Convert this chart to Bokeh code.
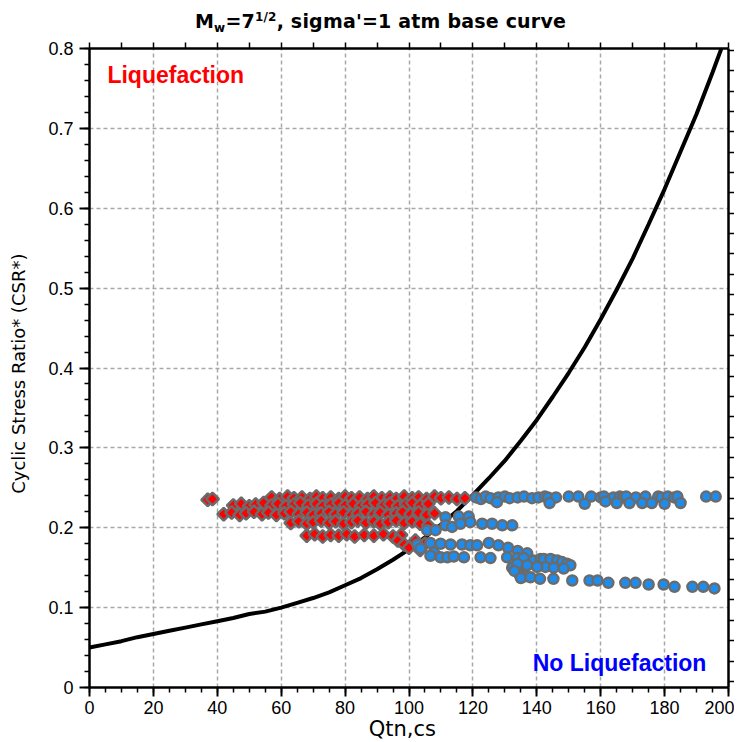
import math
from bokeh.plotting import figure
from bokeh.layouts import column
from bokeh.models import (LinearAxis, Range1d, SingleIntervalTicker, Label, Div,
                          ColumnDataSource, CustomJSTickFormatter)
from bokeh.embed import file_html
from bokeh.resources import INLINE

# ---------------- data ----------------
curve_q = [0, 5, 10, 15, 20, 25, 30, 35, 40, 45, 50, 55, 60, 65, 70, 75, 80, 85,
           90, 95, 100, 105, 110, 115, 120, 125, 130, 135, 140, 145, 150, 155,
           160, 165, 170, 175, 180, 185, 190, 195, 200]
curve_csr = [0.050, 0.054, 0.058, 0.063, 0.067, 0.071, 0.075, 0.079, 0.083, 0.087,
             0.092, 0.095, 0.100, 0.106, 0.112, 0.119, 0.128, 0.137, 0.148, 0.160,
             0.173, 0.188, 0.204, 0.221, 0.241, 0.262, 0.284, 0.309, 0.335, 0.364,
             0.394, 0.426, 0.461, 0.498, 0.537, 0.580, 0.624, 0.671, 0.718, 0.770, 0.824]

# Liquefaction cases (red diamonds)
liq_q = [37, 38.5,
         57, 59.5, 62, 64, 66.5, 69, 71, 73, 75.5, 78, 80, 82, 84.5, 87, 89, 91.5, 94, 96,
         98.5, 101, 103, 105.5, 108, 110, 112.5, 115, 117.5,
         45, 47.5, 50, 52, 54.5, 57, 59, 61.5, 64, 66, 68.5, 71, 73, 75.5, 78, 80, 82.5, 85,
         87, 89.5, 92, 94, 96.5, 99, 101, 103.5, 106,
         42, 44.5, 47, 49, 51.5, 54, 56, 58.5, 61, 63, 65.5, 68, 70, 72.5, 75, 77, 79.5, 82,
         84, 86.5, 89, 91, 93.5, 96, 98, 100.5, 103, 105.5, 108,
         63, 65.5, 68, 70, 72.5, 75, 77, 79.5, 82, 84, 86.5, 89, 91, 93.5, 96, 98.5, 101,
         103.5, 106,
         68, 70.5, 73, 75.5, 78, 80.5, 83, 86, 89, 92, 95, 97.5,
         96.5, 98.5, 100, 102, 103.5, 105]
liq_csr = [0.235, 0.236,
           0.238, 0.236, 0.239, 0.237, 0.238, 0.236, 0.239, 0.237, 0.238, 0.236, 0.239,
           0.237, 0.238, 0.236, 0.239, 0.237, 0.238, 0.236, 0.239, 0.237, 0.238, 0.236,
           0.239, 0.237, 0.238, 0.236, 0.237,
           0.228, 0.230, 0.227, 0.229, 0.231, 0.228, 0.230, 0.227, 0.229, 0.231, 0.228,
           0.230, 0.227, 0.229, 0.231, 0.228, 0.230, 0.227, 0.229, 0.231, 0.228, 0.230,
           0.227, 0.229, 0.231, 0.228, 0.230,
           0.217, 0.219, 0.216, 0.218, 0.220, 0.217, 0.219, 0.216, 0.218, 0.220, 0.217,
           0.219, 0.216, 0.218, 0.220, 0.217, 0.219, 0.216, 0.218, 0.220, 0.217, 0.219,
           0.216, 0.218, 0.220, 0.217, 0.219, 0.216, 0.218,
           0.206, 0.208, 0.205, 0.207, 0.209, 0.206, 0.208, 0.205, 0.207, 0.209, 0.206,
           0.208, 0.205, 0.207, 0.209, 0.206, 0.208, 0.205, 0.203,
           0.190, 0.192, 0.189, 0.191, 0.190, 0.192, 0.189, 0.191, 0.190, 0.192, 0.189, 0.191,
           0.184, 0.179, 0.175, 0.184, 0.172, 0.180]

# No-liquefaction cases (blue circles)
noliq_q = [121, 122.5, 124, 125.5, 128, 130, 131.5, 134, 136, 138.5, 140.5, 142.5, 143.5,
           146, 150, 153, 157, 160, 161, 164, 166, 167, 168, 171, 174, 178, 179, 181, 183,
           184, 193, 196,
           127.5, 144, 155, 161.5, 165, 169, 173, 176, 180, 185,
           111.4, 115.6, 118.7,
           111.4, 113.5, 116.1, 119.2, 122.9, 126, 129.2, 132.3, 105.7, 108.3,
           102.6, 106.7, 109.9, 113, 116.6, 119.2, 121.3, 103.6, 107.8,
           125, 128, 131, 134, 137,
           106.7, 109.9, 112, 114, 117.2, 122.4, 125.5, 130.7, 133.9, 135.9, 139, 141.2,
           143.3, 145.3,
           142.2, 144.3, 146.4, 147.9, 149.5, 150.5, 142.7, 145.3, 148.4,
           132.3, 135.9, 133.9, 137, 140.1, 134.5, 136, 133, 135, 138,
           141, 145.2, 151.1, 156.5, 159, 162.4, 167.7, 170.9, 175, 179.7, 183.1, 188.7,
           192.1, 195.6]
noliq_csr = [0.238, 0.236, 0.239, 0.237, 0.238, 0.239, 0.237, 0.238, 0.239, 0.237, 0.238,
             0.239, 0.238, 0.238, 0.239, 0.239, 0.239, 0.238, 0.239, 0.238, 0.239, 0.238,
             0.239, 0.238, 0.239, 0.239, 0.238, 0.239, 0.238, 0.239, 0.239, 0.239,
             0.232, 0.231, 0.230, 0.233, 0.231, 0.231, 0.231, 0.231, 0.230, 0.231,
             0.213, 0.214, 0.214,
             0.203, 0.201, 0.205, 0.207, 0.205, 0.205, 0.203, 0.203, 0.197, 0.197,
             0.179, 0.181, 0.180, 0.179, 0.179, 0.178, 0.178, 0.174, 0.169,
             0.181, 0.178, 0.175, 0.171, 0.168,
             0.165, 0.163, 0.163, 0.164, 0.163, 0.163, 0.162, 0.163, 0.162, 0.162, 0.159,
             0.161, 0.159, 0.159,
             0.161, 0.161, 0.159, 0.157, 0.155, 0.153, 0.151, 0.150, 0.149,
             0.150, 0.149, 0.155, 0.153, 0.151, 0.142, 0.139, 0.146, 0.137, 0.138,
             0.136, 0.136, 0.134, 0.134, 0.134, 0.131, 0.131, 0.131, 0.129, 0.129, 0.126,
             0.126, 0.126, 0.124]

x_interval = 20
y_interval = 0.1

TITLE_H = 34

# ---------------- figure ----------------
p = figure(frame_width=639, frame_height=639,
           x_range=Range1d(0, 200), y_range=Range1d(0, 0.8),
           output_backend="svg", toolbar_location=None,
           min_border_left=89, min_border_top=48 - TITLE_H, min_border_right=5,
           min_border_bottom=0)
p.outline_line_color = None
p.background_fill_color = "white"
p.border_fill_color = "white"

TICK_FONT = "Liberation Sans"
LABEL_FONT = "DejaVu Sans"

xa = p.xaxis[0]
xa.ticker = SingleIntervalTicker(interval=x_interval, num_minor_ticks=4)
xa.major_tick_out = 9
xa.major_tick_in = 0
xa.minor_tick_out = 5
xa.minor_tick_in = 0
xa.major_label_standoff = 4
xa.major_label_text_font = TICK_FONT
xa.major_label_text_font_size = "18px"
xa.major_label_text_color = "black"
xa.axis_line_width = 2.5
xa.major_tick_line_width = 2
xa.minor_tick_line_width = 1.5
xa.axis_label = "Qtn,cs\u00a0\u00a0"
xa.axis_label_text_font = LABEL_FONT
xa.axis_label_text_font_size = "21px"
xa.axis_label_text_font_style = "normal"
xa.axis_label_text_color = "black"
xa.axis_label_standoff = 0

ya = p.yaxis[0]
ya.ticker = SingleIntervalTicker(interval=y_interval, num_minor_ticks=5)
ya.major_tick_out = 10
ya.major_tick_in = 0
ya.minor_tick_out = 5
ya.minor_tick_in = 0
ya.major_label_standoff = 6
ya.major_label_text_font = TICK_FONT
ya.major_label_text_font_size = "18px"
ya.major_label_text_color = "black"
ya.axis_line_width = 2.5
ya.major_tick_line_width = 2
ya.minor_tick_line_width = 1.5
ya.axis_label = "Cyclic Stress Ratio* (CSR*)\u00a0\u00a0"
ya.axis_label_text_font = LABEL_FONT
ya.axis_label_text_font_size = "18px"
ya.axis_label_text_font_style = "normal"
ya.axis_label_text_color = "black"
ya.axis_label_standoff = 16

empty = CustomJSTickFormatter(code="return ''")

top = LinearAxis(ticker=SingleIntervalTicker(interval=10, num_minor_ticks=0),
                 formatter=empty, major_tick_out=6, major_tick_in=0,
                 minor_tick_out=0, minor_tick_in=0, major_label_standoff=0,
                 axis_line_width=2.5, major_tick_line_width=1.5,
                 major_label_text_font_size="1px")
p.add_layout(top, "above")

p.extra_y_ranges = {"rt": Range1d(-0.30, 31.09)}
right = LinearAxis(y_range_name="rt",
                   ticker=SingleIntervalTicker(interval=1, num_minor_ticks=0),
                   formatter=empty, major_tick_out=6, major_tick_in=0,
                   minor_tick_out=0, minor_tick_in=0, major_label_standoff=0,
                   axis_line_width=2.5, major_tick_line_width=1.5,
                   major_label_text_font_size="1px")
p.add_layout(right, "right")

for g in (p.xgrid[0], p.ygrid[0]):
    g.grid_line_color = "#a8a8a8"
    g.grid_line_dash = "4 3"
    g.grid_line_width = 1.5

# ---------------- glyphs ----------------
p.line(curve_q, curve_csr, line_color="black", line_width=4)

liq_src = ColumnDataSource(dict(q=liq_q, csr=liq_csr))
p.scatter("q", "csr", source=liq_src, marker="square", angle=math.pi / 4,
          size=9, fill_color="#ff0000", line_color="#6b6b6b", line_width=2.5)

noliq_src = ColumnDataSource(dict(q=noliq_q, csr=noliq_csr))
p.scatter("q", "csr", source=noliq_src, marker="circle", size=10,
          fill_color="#1e8cec", line_color="#6b6b6b", line_width=2.5)

# ---------------- texts ----------------
p.add_layout(Label(x=5.6, y=0.767, text="Liquefaction", text_color="#ff0000",
                   text_font="Liberation Sans", text_font_style="bold",
                   text_font_size="23px", text_baseline="middle", text_align="left"))
p.add_layout(Label(x=138.7, y=0.031, text="No Liquefaction", text_color="#0000ff",
                   text_font="Liberation Sans", text_font_style="bold",
                   text_font_size="23px", text_baseline="middle", text_align="left"))

# title: M_w = 7^(1/2), sigma'=1 atm base curve
title_html = (
    '<div style="position:relative;height:%dpx;width:736px;">'
    '<span style="position:absolute;left:195px;top:12px;white-space:nowrap;'
    "font-family:'DejaVu Sans';font-weight:bold;font-size:19px;line-height:19px;"
    'letter-spacing:0.2px;color:#000;">'
    'M<span style="font-size:12px;position:relative;top:4px;">w</span>'
    '=7<span style="font-size:12px;position:relative;top:-7px;">1/2</span>'
    ", sigma'=1 atm base curve</span></div>" % TITLE_H
)
title_div = Div(text=title_html, width=736, height=TITLE_H,
                styles={"margin": "0", "padding": "0"})

layout = column(title_div, p, spacing=0)

open("out.html", "w").write(file_html(layout, INLINE))
